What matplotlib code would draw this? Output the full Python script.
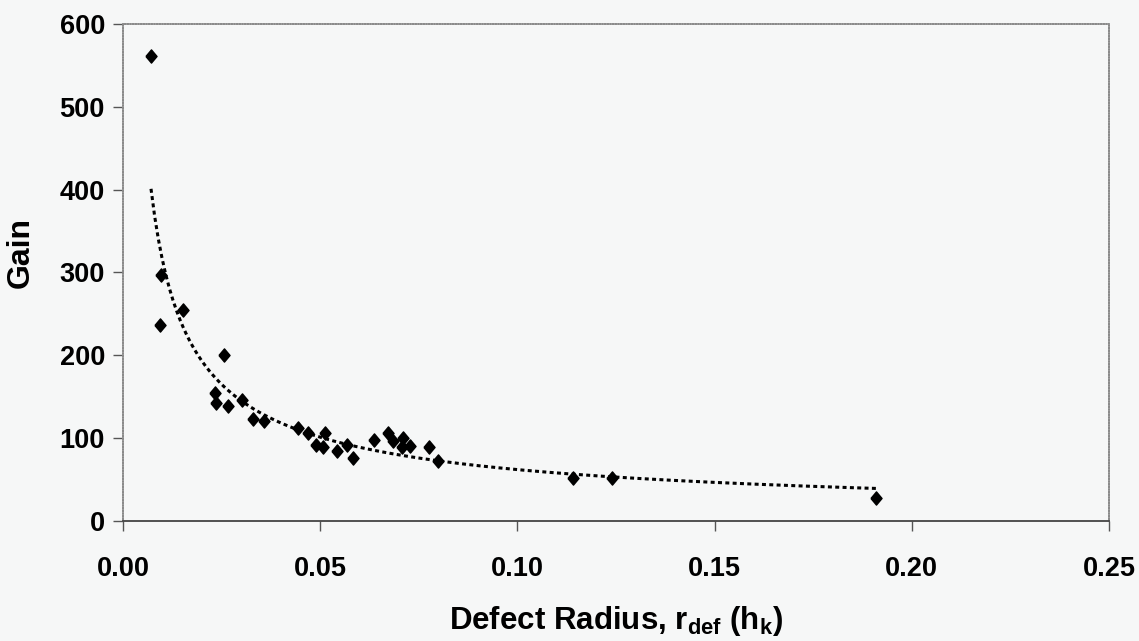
import numpy as np
import matplotlib
matplotlib.use('Agg')
import matplotlib.pyplot as plt

# defect radius (h_k) and gain
radius = [0.0071, 0.0096, 0.0094, 0.0152, 0.0256, 0.0233, 0.0236, 0.0266, 0.0302, 0.0330,
          0.0357, 0.0444, 0.0469, 0.0512, 0.0489, 0.0507, 0.0543, 0.0568, 0.0583, 0.0636,
          0.0672, 0.0685, 0.0710, 0.0707, 0.0728, 0.0776, 0.0799, 0.1140, 0.1240, 0.1910]
gain = [561, 297, 237, 255, 200, 155, 142, 139, 146, 123,
        121, 112, 106, 106, 92, 89, 85, 92, 76, 98,
        106, 97, 100, 89, 91, 89, 72, 52, 52, 28]

x_ticks = [0.00, 0.05, 0.10, 0.15, 0.20, 0.25]
y_ticks = [0, 100, 200, 300, 400, 500, 600]

plt.rcParams['font.family'] = ['Liberation Sans', 'DejaVu Sans']
plt.rcParams['font.weight'] = 'bold'
plt.rcParams['mathtext.fontset'] = 'custom'
plt.rcParams['mathtext.rm'] = 'Liberation Sans:bold'
plt.rcParams['mathtext.bf'] = 'Liberation Sans:bold'

fig = plt.figure(figsize=(11.39, 6.41), dpi=100)
fig.patch.set_facecolor('#f6f7f7')
ax = fig.add_axes([0.108, 0.1872, 0.8657, 0.7754])
ax.set_facecolor('#f6f7f7')

# Excel-like diamond, a bit taller than wide
diamond = [(-0.42, 0), (0, 0.5), (0.42, 0), (0, -0.5), (-0.42, 0)]
ax.plot(radius, gain, linestyle='none', marker=diamond, ms=9.5, color='black')

# power trendline, fitted like the spreadsheet does (least squares in log space)
rr = np.array(radius)
b, ln_a = np.polyfit(np.log(rr), np.log(np.array(gain)), 1)
xf = np.linspace(rr.min(), rr.max(), 200)
ax.plot(xf, np.exp(ln_a) * xf ** b, color='black', lw=2.2, linestyle=(0, (1.3, 1.1)))

ax.set_xlim(0, 0.25)
ax.set_ylim(0, 600)
ax.set_xticks(x_ticks)
ax.set_yticks(y_ticks)
ax.set_xticklabels(['%.2f' % t for t in x_ticks])
ax.tick_params(axis='x', direction='out', length=7, width=1, color='#555555', pad=18, labelsize=19.5)
ax.tick_params(axis='y', direction='out', length=7, width=1, color='#555555', pad=6, labelsize=19.5)

for side in ['top', 'right', 'left']:
    ax.spines[side].set_color('#8a8a8a')
    ax.spines[side].set_linewidth(1.2)
    ax.spines[side].set_linestyle((0, (1, 0.6)))
ax.spines['bottom'].set_color('#444444')
ax.spines['bottom'].set_linewidth(1.3)

ax.set_xlabel(r'Defect Radius, r$_{\mathrm{def}}$ (h$_{\mathrm{k}}$)', fontsize=22.5, fontweight='bold', labelpad=16)
ax.set_ylabel('Gain', fontsize=23, fontweight='bold')
ax.yaxis.set_label_coords(-0.089, 0.54)

fig.savefig('out.png', dpi=100, facecolor=fig.get_facecolor())
